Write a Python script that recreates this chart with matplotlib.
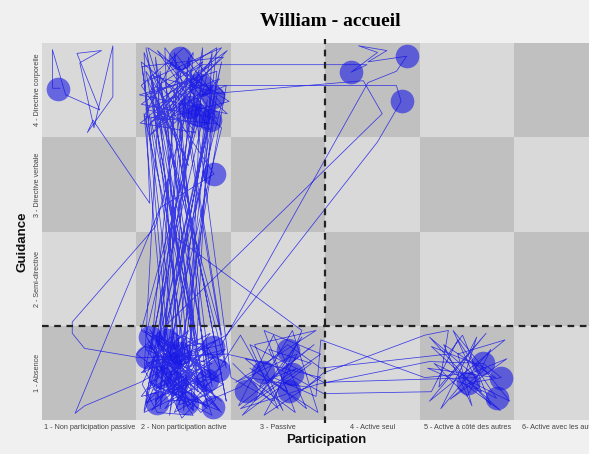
import matplotlib
matplotlib.use("Agg")
import matplotlib.pyplot as plt
from matplotlib.colors import ListedColormap
import numpy as np

# Categories
participation = ["1 - Non participation passive", "2 - Non participation active",
                 "3 - Passive", "4 - Active seul", "5 - Active à côté des autres",
                 "6- Active avec les autres"]
guidance = ["1 - Absence", "2 - Semi-directive", "3 - Directive verbale",
            "4 - Directive corporelle"]

# Trajectory (participation, guidance) in phases
phase_a = [(0.69, 4.02), (0.61, 4.02), (0.61, 4.43), (0.75, 3.95), (1.11, 3.79), (0.87, 4.39),
           (1.13, 4.42), (0.90, 4.29), (1.05, 3.60), (1.25, 4.47), (1.25, 3.93), (0.98, 3.55),
           (1.04, 3.68), (1.64, 2.80)]
phase_b = [(1.58, 4.40), (2.05, 3.20), (1.62, 4.10), (2.40, 4.45), (1.70, 3.60), (2.20, 4.30),
           (1.55, 3.85), (2.35, 3.70), (1.80, 4.45), (1.95, 0.70), (1.60, 1.40), (2.30, 4.40),
           (2.10, 0.60), (1.75, 4.20), (1.58, 1.00), (2.25, 3.90), (1.85, 0.55), (2.45, 4.05),
           (1.65, 3.70), (2.15, 1.30), (1.60, 4.45), (2.30, 0.85), (1.90, 4.00), (1.70, 0.65),
           (2.40, 3.60), (1.55, 4.30), (2.05, 0.95), (2.20, 4.45), (1.65, 1.20), (1.95, 4.25),
           (2.40, 1.40), (1.75, 3.80), (2.10, 4.40), (1.85, 1.10), (1.60, 3.95), (2.35, 4.20),
           (2.00, 0.60), (1.70, 4.35), (2.25, 1.05), (1.55, 1.45), (2.15, 3.65), (1.80, 4.10),
           (2.45, 0.70), (1.90, 3.55), (1.62, 4.45), (2.30, 4.00), (1.75, 0.80), (2.05, 4.30),
           (2.40, 3.85), (1.58, 0.60), (2.20, 4.15), (1.85, 3.70), (2.10, 1.25), (1.65, 4.00),
           (2.35, 4.45), (1.95, 0.90)]
phase_b2 = [(1.56, 4.25), (2.42, 4.35), (1.62, 3.62), (2.05, 4.10), (1.53, 3.95), (2.46, 3.75),
            (1.72, 4.42), (2.28, 3.58), (1.60, 3.80), (2.38, 4.12), (1.85, 3.60), (1.55, 4.05),
            (2.00, 4.45), (2.44, 3.95), (1.68, 4.15), (2.12, 3.55), (1.54, 3.65), (2.30, 4.28),
            (1.78, 3.92), (2.46, 4.42), (1.64, 3.52), (2.20, 4.00), (1.92, 4.38), (1.58, 3.72),
            (2.36, 3.64), (1.82, 4.30), (2.48, 3.88), (1.70, 3.68), (2.08, 4.20)]
phase_c = [(2.20, 4.27), (3.94, 4.27), (3.77, 4.19), (4.05, 4.40), (3.85, 4.47), (4.15, 4.42),
           (3.95, 4.30), (4.36, 4.36), (4.25, 4.20), (3.95, 4.08), (2.40, 1.30)]
phase_d = [(1.60, 1.10), (2.10, 0.60), (1.70, 1.40), (2.35, 0.95), (1.55, 0.75), (2.00, 1.35),
           (2.30, 0.55), (1.65, 0.90), (2.20, 1.20), (1.80, 0.62), (2.45, 1.10), (1.90, 1.42),
           (1.58, 0.58), (2.15, 0.85), (1.75, 1.25), (2.40, 0.70), (1.95, 1.05), (1.62, 1.35),
           (2.25, 0.62), (1.85, 0.95), (2.05, 1.45), (1.55, 1.00), (2.35, 1.35), (1.70, 0.70),
           (2.10, 1.00), (1.90, 0.58), (2.42, 0.88), (1.60, 1.25), (2.00, 0.75), (1.78, 1.15),
           (2.28, 1.42), (1.66, 0.60), (2.18, 1.05), (1.88, 1.30), (2.38, 0.60), (1.72, 0.85),
           (2.08, 1.22), (1.58, 1.45), (2.30, 0.80), (1.95, 0.66), (2.12, 1.38), (1.68, 1.05),
           (2.44, 1.25), (1.82, 0.80), (2.02, 1.12), (1.60, 0.68), (2.25, 0.98)]
phase_d2 = [(1.75, 1.40), (1.92, 1.18), (1.66, 1.12), (1.88, 0.86), (2.06, 0.94), (1.84, 0.70),
            (2.16, 0.72), (1.98, 0.52), (1.80, 0.92), (1.62, 0.82), (1.78, 1.02), (2.02, 1.28),
            (2.22, 1.32), (2.06, 1.06), (2.32, 1.18), (2.14, 0.96), (1.94, 0.78), (2.10, 0.55),
            (1.72, 0.58), (1.56, 0.88), (1.70, 1.18), (1.86, 1.38), (2.00, 1.02), (2.20, 0.84),
            (2.40, 1.00), (2.26, 1.26), (1.98, 1.40), (1.80, 1.24), (1.64, 1.46), (1.90, 1.04),
            (2.12, 1.16), (2.34, 0.72), (2.18, 0.58), (1.96, 0.84), (1.74, 0.74), (1.58, 1.04),
            (1.82, 1.30), (2.04, 0.64), (2.28, 0.90)]
phase_e = [(2.60, 1.40), (3.05, 0.60), (2.75, 1.30), (3.40, 1.45), (2.55, 0.90), (3.20, 1.20),
           (2.85, 0.55), (3.45, 0.95), (2.65, 1.15), (3.30, 0.62), (2.95, 1.40), (2.58, 0.65),
           (3.38, 1.30), (2.80, 0.85), (3.15, 1.45), (3.42, 0.58), (2.70, 1.05), (3.10, 0.80),
           (2.90, 1.25), (3.35, 1.10), (2.62, 0.55), (3.00, 1.00), (3.25, 1.38), (2.75, 0.70),
           (3.45, 1.20), (2.85, 1.45), (3.18, 0.58), (2.68, 0.95), (3.30, 0.85), (3.48, 1.00)]
phase_f = [(4.55, 1.40), (4.80, 1.45), (4.70, 0.85), (5.20, 1.42), (4.60, 0.70), (5.40, 1.35),
           (4.90, 1.20), (5.05, 0.65), (4.75, 1.30), (5.30, 0.95), (4.58, 1.05), (5.15, 0.80),
           (4.85, 1.45), (5.45, 0.70), (4.65, 1.10), (5.00, 0.75), (5.25, 1.25), (4.72, 0.62),
           (5.10, 1.38), (4.95, 0.90), (5.35, 0.60), (4.62, 1.28), (5.20, 1.05), (4.82, 0.72),
           (5.42, 1.15), (5.05, 1.00), (4.55, 0.95), (3.45, 1.35), (3.40, 0.75), (2.95, 0.95),
           (3.20, 1.05), (2.60, 0.62), (3.42, 0.88), (4.60, 1.12), (5.17, 1.10), (5.36, 0.95),
           (5.01, 0.89), (5.31, 0.73), (4.90, 1.35), (4.62, 0.80), (3.48, 0.78)]
phase_g = [(2.90, 1.10), (2.45, 1.20), (1.54, 1.16), (0.95, 1.26), (0.82, 1.42), (0.82, 1.54),
           (1.70, 2.55), (2.10, 4.05), (4.25, 4.05), (4.30, 3.88), (4.05, 3.45), (2.45, 1.40),
           (1.54, 0.90), (0.95, 0.65), (0.85, 0.57), (1.75, 2.75), (2.32, 3.11), (1.60, 4.20),
           (2.25, 0.65), (1.50, 1.20), (4.10, 3.75), (3.90, 4.10), (2.15, 3.95), (1.90, 2.45),
           (3.25, 1.45)]
phase_h = [(2.95, 0.70), (2.50, 0.95), (2.05, 4.35), (1.70, 0.95), (2.30, 3.80), (1.60, 0.75),
           (2.40, 4.30), (1.80, 1.35), (1.58, 3.75), (2.25, 0.75), (1.90, 4.40), (2.45, 1.05),
           (1.65, 4.15), (2.00, 1.15), (2.35, 3.95), (1.75, 0.62), (1.95, 3.85), (2.15, 0.80),
           (1.62, 1.30), (2.40, 0.58), (1.85, 1.20), (2.30, 1.10), (1.68, 0.82), (2.20, 0.68),
           (2.60, 0.85), (3.10, 1.30), (3.45, 1.05), (4.80, 1.20), (4.95, 1.40), (5.25, 0.66),
           (4.60, 1.38), (5.10, 0.95), (3.48, 0.90), (2.70, 1.30), (3.00, 0.62), (2.52, 1.10)]

# Circles (longer stays)
circles = [(0.67, 4.01), (1.96, 4.34), (2.17, 4.05), (2.31, 3.93), (2.07, 3.82), (2.15, 3.74),
           (2.28, 3.68), (2.32, 3.11), (3.77, 4.19), (4.36, 4.36), (4.31, 3.88),
           (3.10, 1.24), (3.15, 0.99), (2.84, 1.01), (2.66, 0.81), (3.11, 0.81),
           (5.17, 1.10), (5.36, 0.95), (5.01, 0.89), (5.31, 0.73),
           (1.64, 1.38), (1.61, 1.17), (1.82, 1.35), (1.96, 1.21), (2.31, 1.27), (2.36, 1.03),
           (1.75, 0.96), (1.93, 0.89), (2.25, 0.92), (1.72, 0.68), (2.03, 0.68), (2.31, 0.64),
           (1.85, 1.11)]

path = (phase_a + phase_b + phase_b2 + phase_c + phase_d + phase_d2 + phase_e
        + phase_f + phase_g + phase_h)
px = [p[0] for p in path]
py = [p[1] for p in path]
cx = [c[0] for c in circles]
cy = [c[1] for c in circles]

fig = plt.figure(figsize=(5.89, 4.54), dpi=100, facecolor="#f0f0f0")
ax = fig.add_axes([42 / 589, 34 / 454, 567 / 589, 377 / 454])
ax.set_facecolor("#f0f0f0")

# checkerboard background
nx, ny = len(participation), len(guidance)
board = (np.add.outer(np.arange(ny), np.arange(nx)) % 2)
ax.pcolormesh(np.arange(nx + 1) + 0.5, np.arange(ny + 1) + 0.5, board,
              cmap=ListedColormap(["#c0c0c0", "#d9d9d9"]), shading="flat", zorder=0)

ax.plot(px, py, color="#2020e8", lw=0.55, alpha=0.85, zorder=2)
ax.scatter(cx, cy, s=290, color="#1414e6", alpha=0.58, linewidths=0, zorder=3)

ax.plot([3.5, 3.5], [0.47, 4.54], ls=(0, (3, 2.5)), color="#222222", lw=1.6, clip_on=False, zorder=4)
ax.plot([0.5, 6.5], [1.5, 1.5], ls=(0, (3, 2.5)), color="#222222", lw=1.6, zorder=4)

ax.set_xlim(0.5, 6.5)
ax.set_ylim(0.5, 4.5)
ax.set_xticks(range(1, nx + 1))
ax.set_xticklabels(participation, fontsize=5.2, color="#444444", family="Liberation Sans")
ax.set_yticks(range(1, ny + 1))
ax.set_yticklabels(guidance, fontsize=5.2, color="#444444", family="Liberation Sans",
                   rotation=90, va="center")
ax.tick_params(axis="x", length=0, pad=3)
ax.tick_params(axis="y", length=0, pad=0.5)
for s in ax.spines.values():
    s.set_visible(False)

fig.text(330 / 589, 1 - 21 / 454, "William - accueil", ha="center", va="center",
         fontsize=14, fontweight="bold", family="Liberation Serif")
fig.text(326 / 589, 1 - 440 / 454, "Participation", ha="center", va="center",
         fontsize=9.5, fontweight="bold", family="Liberation Sans", color="#111111")
fig.text(22 / 589, 1 - 242 / 454, "Guidance", ha="center", va="center", rotation=90,
         fontsize=9.5, fontweight="bold", family="Liberation Sans", color="#111111")

fig.savefig("out.png", dpi=100, facecolor=fig.get_facecolor())
